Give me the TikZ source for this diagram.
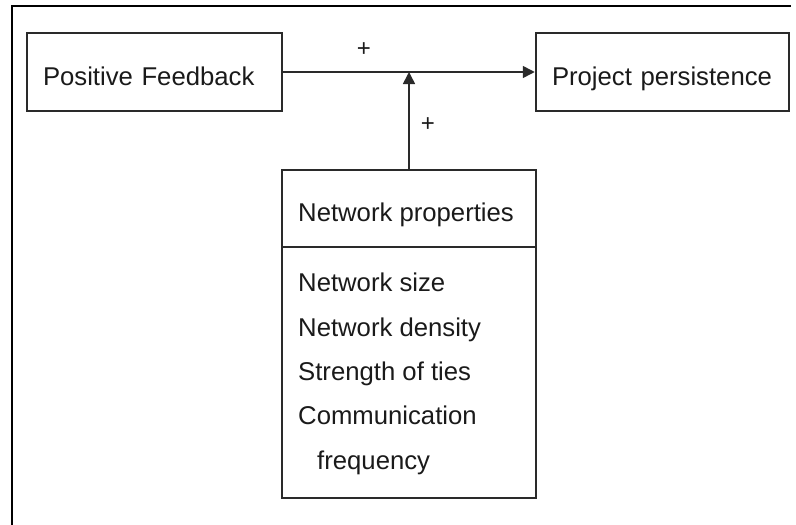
\documentclass[tikz,border=0pt]{standalone}
\usepackage{fontspec}
\setmainfont{Liberation Sans}
\usetikzlibrary{arrows.meta}
\definecolor{linec}{HTML}{2A2A2A}
\definecolor{textc}{HTML}{1A1A1A}
\tikzset{
  box/.style={draw=linec, line width=1.5pt, rectangle, inner xsep=16pt, align=left,
    font=\fontsize{25.7}{30}\selectfont, text=textc, text height=26pt, text depth=0pt},
  lbl/.style={font=\fontsize{25.7}{30}\selectfont, text=textc, inner sep=0pt},
  plus/.style={font=\fontsize{24}{28}\selectfont, text=textc, inner sep=0pt},
  arr/.style={draw=linec, line width=1.6pt, -{Triangle[length=12pt,width=12pt]}},
  frame/.style={draw=black, line width=2.5pt}
}
\begin{document}
\begin{tikzpicture}[x=1pt,y=-1pt]
\useasboundingbox (0,0) rectangle (796,525);
% outer frame (only top and left visible)
\coordinate (fbl) at (12,526);
\coordinate (ftl) at (12,6);
\coordinate (ftr) at (791,6);
\draw[frame] (fbl) -- (ftl) -- (ftr);
% boxes
\node[box, minimum width=255pt, minimum height=78pt, text width=223pt] (pf) at (154.5,72) {Positive Feedback};
\node[box, minimum width=253pt, minimum height=78pt, text width=221pt] (pp) at (662.5,72) {Project persistence};
\node[draw=linec, line width=1.5pt, rectangle, minimum width=254pt, minimum height=328pt, inner sep=0pt] (net) at (409,334) {};
\coordinate (dl) at (282,247);
\coordinate (dr) at (536,247);
\draw[draw=linec, line width=1.5pt] (dl) -- (dr);
\node[lbl, anchor=base west] (hdr) at (298,221) {Network properties};
\node[lbl, anchor=base west] (l1) at (298,291) {Network size};
\node[lbl, anchor=base west] (l2) at (298,336) {Network density};
\node[lbl, anchor=base west] (l3) at (298,380) {Strength of ties};
\node[lbl, anchor=base west] (l4) at (298,424) {Communication};
\node[lbl, anchor=base west] (l5) at (317,469) {frequency};
% connectors
\draw[arr, shorten >=0.5pt] (pf.east) -- (pp.west);
\draw[arr] (net.north) -- (net.north |- pf.east);
% labels
\node[plus] (p1) at (364,50) {+};
\node[plus] (p2) at (428,125) {+};
\end{tikzpicture}
\end{document}
